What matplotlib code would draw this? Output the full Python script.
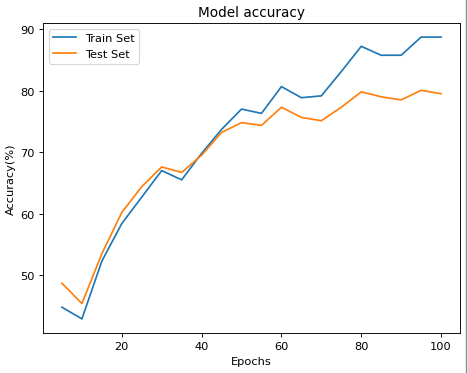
import matplotlib
matplotlib.use("Agg")
import matplotlib.pyplot as plt
from matplotlib.lines import Line2D

epochs = [5, 10, 15, 20, 25, 30, 35, 40, 45, 50, 55, 60, 65, 70, 75, 80, 85, 90, 95, 100]
train_acc = [44.8, 42.9, 52.3, 58.4, 62.7, 67.0, 65.5, 69.8, 73.7, 77.0, 76.3, 80.65, 78.85, 79.15, 83.1, 87.2, 85.75, 85.75, 88.7, 88.7]
test_acc = [48.7, 45.4, 53.5, 60.2, 64.4, 67.6, 66.7, 69.5, 73.2, 74.8, 74.35, 77.3, 75.65, 75.1, 77.3, 79.8, 79.0, 78.5, 80.05, 79.5]

dpi = 82
fig = plt.figure(figsize=(468 / dpi, 374 / dpi), dpi=dpi)
ax = fig.add_axes([43 / 468, 1 - 334 / 374, (460 - 43) / 468, (334 - 24) / 374])
ax.plot(epochs, train_acc, color="#1f77b4", label="Train Set")
ax.plot(epochs, test_acc, color="#ff7f0e", label="Test Set")
ax.set_title("Model accuracy")
ax.set_xlabel("Epochs")
ax.set_ylabel("Accuracy(%)")
ax.set_yticks([50, 60, 70, 80, 90])
ax.set_xticks([20, 40, 60, 80, 100])
ax.legend(loc="upper left")
fig.add_artist(Line2D([466 / 468, 466 / 468], [0, 1], transform=fig.transFigure, color="#888888", lw=1.2))
fig.savefig("out.png", dpi=dpi)
